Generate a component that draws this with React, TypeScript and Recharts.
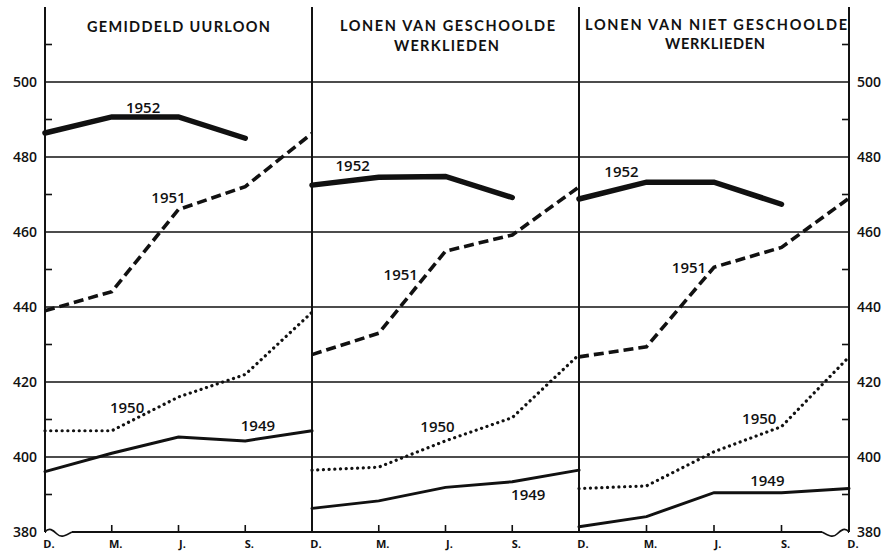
import React from 'react';
import { LineChart, Line, XAxis, YAxis, ReferenceLine, ReferenceDot } from 'recharts';

// x-axis: quarters, December to December
const months = ['D.', 'M.', 'J.', 'S.', 'D.'];
const xTicks = [0, 1, 2, 3, 4];
const yTicks = [380, 390, 400, 410, 420, 430, 440, 450, 460, 470, 480, 490, 500, 510];
const gridValues = [400, 420, 440, 460, 480, 500];

// Gemiddeld uurloon
const uurloon1949 = [396.1, 401, 405.3, 404.3, 407];
const uurloon1950 = [407, 407, 416, 422, 438.6];
const uurloon1951 = [439, 444.1, 466, 472.1, 486.3];
const uurloon1952 = [486.4, 490.7, 490.7, 485, null];

// Lonen van geschoolde werklieden
const geschoold1949 = [386.3, 388.3, 391.9, 393.4, 396.5];
const geschoold1950 = [396.5, 397.3, 404.3, 410.5, 427.3];
const geschoold1951 = [427.3, 433, 454.9, 459.2, 472];
const geschoold1952 = [472.5, 474.6, 474.8, 469.2, null];

// Lonen van niet geschoolde werklieden
const ongeschoold1949 = [381.4, 384.1, 390.5, 390.5, 391.6];
const ongeschoold1950 = [391.6, 392.3, 401.4, 408.1, 426.7];
const ongeschoold1951 = [426.7, 429.4, 450.6, 455.9, 469];
const ongeschoold1952 = [468.8, 473.3, 473.3, 467.4, null];

const years = ['1949', '1950', '1951', '1952'];

const INK = '#111';
const FONT = '"Open Sans", "DejaVu Sans", sans-serif';
const TITLE_FONT = 'Lato, "Open Sans", sans-serif';

const lineStyle: Record<string, any> = {
  '1949': { strokeWidth: 3, strokeLinecap: 'round' },
  '1950': { strokeWidth: 3.2, strokeDasharray: '0.1 5.6', strokeLinecap: 'round' },
  '1951': { strokeWidth: 3.6, strokeDasharray: '10 5', strokeLinecap: 'butt' },
  '1952': { strokeWidth: 5.5, strokeLinecap: 'round' },
};

const buildRows = (series: (number | null)[][]) =>
  months.map((m, i) => {
    const row: any = { x: i, month: m };
    years.forEach((y, k) => {
      row['y' + y] = series[k][i];
    });
    return row;
  });

// where the year labels sit, in data units
const panels = [
  {
    rows: buildRows([uurloon1949, uurloon1950, uurloon1951, uurloon1952]),
    labels: [
      { year: '1952', x: 1.47, y: 493.2 },
      { year: '1951', x: 1.85, y: 469.2 },
      { year: '1950', x: 1.23, y: 413.2 },
      { year: '1949', x: 3.19, y: 408.3 },
    ],
  },
  {
    rows: buildRows([geschoold1949, geschoold1950, geschoold1951, geschoold1952]),
    labels: [
      { year: '1952', x: 0.61, y: 477.5 },
      { year: '1951', x: 1.33, y: 448.5 },
      { year: '1950', x: 1.88, y: 407.9 },
      { year: '1949', x: 3.24, y: 389.8 },
    ],
  },
  {
    rows: buildRows([ongeschoold1949, ongeschoold1950, ongeschoold1951, ongeschoold1952]),
    labels: [
      { year: '1952', x: 0.63, y: 475.9 },
      { year: '1951', x: 1.63, y: 450.3 },
      { year: '1950', x: 2.67, y: 410.1 },
      { year: '1949', x: 2.79, y: 393.5 },
    ],
  },
];

const makeYTick = (side: 'left' | 'right') => (props: any) => {
  const { x, y, payload } = props;
  const v = payload.value;
  const dir = side === 'left' ? 1 : -1;
  const axisX = x + dir * 8;
  if (v % 20 !== 0) {
    return <line x1={axisX} x2={axisX + dir * 7} y1={y} y2={y} stroke={INK} strokeWidth={1.6} />;
  }
  return (
    <text
      x={x}
      y={y}
      dy={5}
      textAnchor={side === 'left' ? 'end' : 'start'}
      fontFamily={FONT}
      fontWeight={600}
      fontSize={14}
      fill={INK}
    >
      {v}
    </text>
  );
};

// the closing "D." of a panel is drawn by the next panel
const makeBottomTick = (lastPanel: boolean) => (props: any) => {
  const { x, y, payload } = props;
  const i = payload.value;
  const showText = i < 4 || lastPanel;
  return (
    <g>
      {i > 0 && i < 4 && <line x1={x} x2={x} y1={y} y2={y - 7} stroke={INK} strokeWidth={1.6} />}
      {showText && (
        <text x={x + 4} y={y + 16} textAnchor="middle" fontFamily={FONT} fontWeight={700} fontSize={11} fill={INK}>
          {months[i]}
        </text>
      )}
    </g>
  );
};

const TopTick = (props: any) => {
  const { x, y, payload } = props;
  const i = payload.value;
  if (i === 0 || i === 4) return <g />;
  return <line x1={x} x2={x} y1={y} y2={y + 7} stroke={INK} strokeWidth={1.6} />;
};

const YearLabel = (year: string) => (props: any) => (
  <text
    x={props.cx}
    y={props.cy}
    dy={5}
    textAnchor="middle"
    fontFamily={FONT}
    fontSize={15}
    fontWeight={600}
    fill={INK}
  >
    {year}
  </text>
);

const Wave = (side: 'left' | 'right') => (props: any) => {
  const { cx, cy } = props;
  const d = side === 'left' ? 1 : -1;
  return (
    <g>
      <rect x={side === 'left' ? cx + 1 : cx - 27} y={cy - 2} width={26} height={4} fill="#fff" />
      <path
        d={`M${cx},${cy} C${cx + d * 4},${cy - 5} ${cx + d * 8},${cy - 2} ${cx + d * 12},${cy + 2} S${cx + d * 20},${cy + 4} ${cx + d * 27},${cy}`}
        fill="none"
        stroke={INK}
        strokeWidth={1.6}
      />
    </g>
  );
};

const PAD = 12;

const Panel: React.FC<{ idx: number; left: number; plotWidth: number }> = ({ idx, left, plotWidth }) => {
  const panel = panels[idx];
  const yAxisSide = idx === 0 ? 'left' : idx === 2 ? 'right' : null;
  const axisW = yAxisSide === 'left' ? 45 : yAxisSide === 'right' ? 39 : 0;
  const mLeft = idx === 0 ? 0 : PAD;
  const mRight = idx === 2 ? 0 : PAD;
  const width = mLeft + mRight + axisW + plotWidth;
  const chartLeft = idx === 0 ? 0 : left - PAD;
  return (
    <div style={{ position: 'absolute', left: chartLeft, top: 0 }}>
      <LineChart width={width} height={552} data={panel.rows} margin={{ top: 7, right: mRight, bottom: 0, left: mLeft }}>
        <XAxis
          dataKey="x"
          type="number"
          domain={[0, 4]}
          ticks={xTicks}
          height={20}
          tickSize={0}
          tickMargin={0}
          tick={makeBottomTick(idx === 2)}
          axisLine={{ stroke: INK, strokeWidth: 1.8 }}
          interval={0}
        />
        <XAxis
          xAxisId="top"
          dataKey="x"
          type="number"
          orientation="top"
          domain={[0, 4]}
          ticks={xTicks}
          height={0}
          tickSize={0}
          tickMargin={0}
          tick={TopTick}
          axisLine={{ stroke: INK, strokeWidth: 1.8 }}
          interval={0}
        />
        {yAxisSide ? (
          <YAxis
            orientation={yAxisSide}
            width={axisW}
            domain={[380, 520]}
            ticks={yTicks}
            interval={0}
            tickSize={0}
            tickMargin={8}
            tick={makeYTick(yAxisSide)}
            axisLine={{ stroke: INK, strokeWidth: 1.8 }}
          />
        ) : (
          <YAxis hide domain={[380, 520]} />
        )}
        {gridValues.map((v) => (
          <ReferenceLine key={v} y={v} stroke={INK} strokeWidth={1.4} />
        ))}
        <ReferenceLine x={0} stroke={INK} strokeWidth={1.8} />
        <ReferenceLine x={4} stroke={INK} strokeWidth={1.8} />
        {years.map((y) => (
          <Line
            key={y}
            type="linear"
            dataKey={'y' + y}
            stroke={INK}
            dot={false}
            activeDot={false}
            isAnimationActive={false}
            connectNulls={false}
            {...lineStyle[y]}
          />
        ))}
        {panel.labels.map((l) => (
          <ReferenceDot key={l.year} x={l.x} y={l.y} r={0} shape={YearLabel(l.year)} />
        ))}
        {idx === 0 && <ReferenceDot x={0} y={380} r={0} shape={Wave('left')} />}
        {idx === 2 && <ReferenceDot x={4} y={380} r={0} shape={Wave('right')} />}
      </LineChart>
    </div>
  );
};

const titleProps = {
  fontFamily: TITLE_FONT,
  fontWeight: 700,
  fontSize: 14.5,
  fill: INK,
  textAnchor: 'middle' as const,
  lengthAdjust: 'spacing' as const,
};

const App: React.FC = () => (
  <div style={{ position: 'absolute', left: 0, top: 0, width: 888, height: 552, background: '#fff', overflow: 'hidden' }}>
    <Panel idx={0} left={0} plotWidth={267} />
    <Panel idx={1} left={312} plotWidth={267} />
    <Panel idx={2} left={579} plotWidth={270} />
    <svg width={888} height={60} style={{ position: 'absolute', left: 0, top: 0, pointerEvents: 'none' }}>
      <text x={178.5} y={31.5} textLength={183} {...titleProps}>GEMIDDELD UURLOON</text>
      <text x={447.5} y={30.7} textLength={215} {...titleProps}>LONEN VAN GESCHOOLDE</text>
      <text x={446.5} y={50.5} textLength={105} {...titleProps}>WERKLIEDEN</text>
      <text x={716} y={29.5} textLength={262} {...titleProps}>LONEN VAN NIET GESCHOOLDE</text>
      <text x={715} y={48.5} textLength={100} {...titleProps}>WERKLIEDEN</text>
    </svg>
  </div>
);

export default App;
